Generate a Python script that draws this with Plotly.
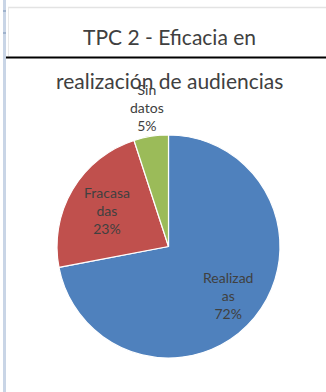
import math
import plotly.graph_objects as go

# Audiencias TPC 2, por resultado
categorias = ["Realizadas", "Fracasadas", "Sin datos"]
valores = [72, 23, 5]
etiquetas = ["Realizad<br>as", "Fracasa<br>das", "Sin<br>datos"]
colores = ["#4F81BD", "#C0504D", "#9BBB59"]

W, H = 326, 392
cx, cy, R = 168.5, 246.5, 111.5  # pie centre and radius in px

def px(x):
    return x / W

def py(y):
    return 1 - y / H

fig = go.Figure(go.Pie(
    labels=categorias,
    values=valores,
    sort=False,
    direction="clockwise",
    rotation=0,
    marker=dict(colors=colores, line=dict(color="white", width=1.2)),
    textinfo="none",
    hoverinfo="label+percent",
    domain=dict(x=[px(cx - R), px(cx + R)], y=[py(cy + R), py(cy - R)]),
    showlegend=False,
))

# data labels placed at each slice's mid angle
total = sum(valores)
acum = 0
radios = [0.69, 0.64, 1.26]
annotations = []
for v, et, rf in zip(valores, etiquetas, radios):
    mid = (acum + v / 2) / total * 2 * math.pi
    acum += v
    lx = cx + rf * R * math.sin(mid)
    ly = cy - rf * R * math.cos(mid)
    pct = round(v / total * 100)
    annotations.append(dict(
        x=px(lx), y=py(ly), xref="paper", yref="paper",
        text=f"{et}<br>{pct}%", showarrow=False,
        font=dict(family="Lato", size=14, color="#404040"),
        xanchor="center", yanchor="middle", align="center",
    ))

# two-line chart title
for texto, yy in [("TPC 2 - Eficacia en", 37), ("realización de audiencias", 80)]:
    annotations.append(dict(
        x=px(169), y=py(yy), xref="paper", yref="paper",
        text=texto, showarrow=False,
        font=dict(family="Lato", size=21, color="#404040"),
        xanchor="center", yanchor="middle",
    ))

shapes = [
    # sheet edge on the left
    dict(type="rect", xref="paper", yref="paper", x0=px(3), x1=px(6), y0=0, y1=1,
         fillcolor="#C9D5E6", line=dict(width=0), layer="above"),
    dict(type="rect", xref="paper", yref="paper", x0=px(3), x1=px(6), y0=py(12), y1=py(10),
         fillcolor="#9FB2CC", line=dict(width=0), layer="above"),
    dict(type="rect", xref="paper", yref="paper", x0=px(3), x1=px(6), y0=py(34), y1=py(32),
         fillcolor="#9FB2CC", line=dict(width=0), layer="above"),
    # light frame lines at the top
    dict(type="line", xref="paper", yref="paper", x0=px(8), x1=1, y0=py(7.5), y1=py(7.5),
         line=dict(color="#E3E3E3", width=1.5), layer="below"),
    dict(type="line", xref="paper", yref="paper", x0=px(8.5), x1=px(8.5), y0=py(7.5), y1=py(56),
         line=dict(color="#E8E8E8", width=1), layer="below"),
    # dark cell border crossing the title
    dict(type="line", xref="paper", yref="paper", x0=px(5), x1=1, y0=py(57.5), y1=py(57.5),
         line=dict(color="#000000", width=2), layer="below"),
]

fig.update_layout(
    width=W, height=H,
    margin=dict(l=0, r=0, t=0, b=0),
    paper_bgcolor="white",
    plot_bgcolor="white",
    annotations=annotations,
    shapes=shapes,
)

fig.write_html("out.html")
